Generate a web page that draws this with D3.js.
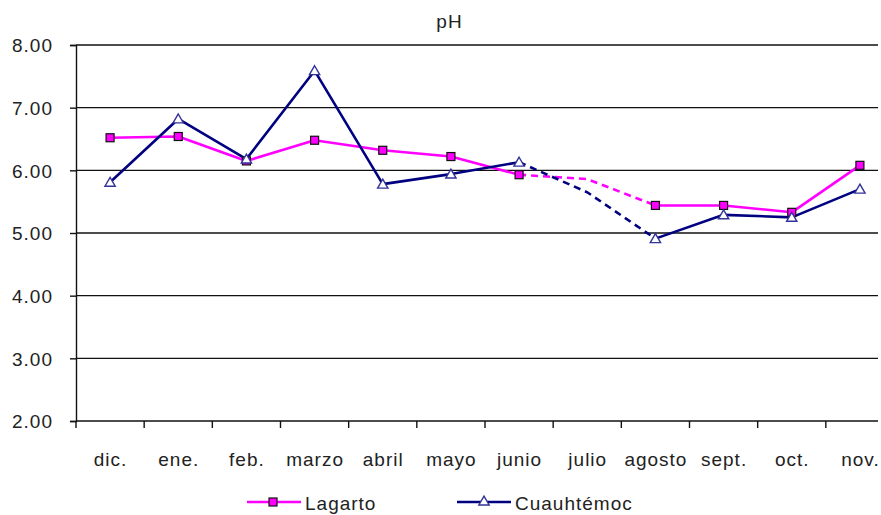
<!DOCTYPE html>
<html>
<head>
<meta charset="utf-8">
<script src="https://cdn.jsdelivr.net/npm/d3@7"></script>
<style>
  html, body { margin: 0; padding: 0; background: #fff; }
  text { font-family: "Liberation Sans", Arial, sans-serif; fill: #222; }
</style>
</head>
<body>
<svg id="chart" width="881" height="515"></svg>
<script>
const categories = ["dic.", "ene.", "feb.", "marzo", "abril", "mayo", "junio", "julio", "agosto", "sept.", "oct.", "nov."];
const lagarto = [6.52, 6.54, 6.15, 6.48, 6.32, 6.22, 5.93, 5.86, 5.44, 5.44, 5.33, 6.08];
const cuauhtemoc = [5.81, 6.82, 6.18, 7.59, 5.78, 5.94, 6.13, 5.65, 4.91, 5.29, 5.25, 5.70];
const dashedIndex = 7; // julio: no marker, dashed connection
const yTicks = [2, 3, 4, 5, 6, 7, 8];
const chartTitle = "pH";
const seriesNames = ["Lagarto", "Cuauhtémoc"];

(function () {
const svg = d3.select("#chart");
const pLeft = 76, pRight = 894, pTop = 45, pBottom = 421, visibleRight = 878;

const x = d3.scaleBand().domain(categories).range([pLeft, pRight]);
const cx = c => x(c) + x.bandwidth() / 2;
const y = d3.scaleLinear().domain([2, 8]).range([pBottom, pTop]);

const LS = "1px", FS = "19px";

// title
svg.append("text").attr("x", 449.5).attr("y", 28).attr("text-anchor", "middle")
  .style("font-size", FS).style("letter-spacing", LS).text(chartTitle);

// gridlines
svg.append("g").selectAll("line").data(yTicks.filter(d => d > 2)).join("line")
  .attr("x1", pLeft).attr("x2", visibleRight)
  .attr("y1", d => y(d)).attr("y2", d => y(d))
  .attr("stroke", "#111").attr("stroke-width", 1.4);

// y axis
const yAxis = svg.append("g").attr("transform", `translate(${pLeft},0)`)
  .call(d3.axisLeft(y).tickValues(yTicks).tickFormat(d3.format(".2f")).tickSize(6).tickPadding(18));
yAxis.select(".domain").attr("stroke", "#111").attr("stroke-width", 1.4);
yAxis.selectAll(".tick line").attr("stroke", "#111").attr("stroke-width", 1.4);
yAxis.selectAll("text").style("font-size", FS).style("letter-spacing", LS)
  .style("font-family", "'Liberation Sans', Arial, sans-serif").attr("fill", "#222")
  .attr("dy", "0.36em").attr("dx", "1");

// x axis line
svg.append("line").attr("x1", pLeft).attr("x2", visibleRight).attr("y1", pBottom).attr("y2", pBottom)
  .attr("stroke", "#111").attr("stroke-width", 1.4);
// boundary ticks
svg.append("g").selectAll("line").data(categories).join("line")
  .attr("x1", d => x(d)).attr("x2", d => x(d))
  .attr("y1", pBottom).attr("y2", pBottom + 7)
  .attr("stroke", "#111").attr("stroke-width", 1.4);
// category labels
svg.append("g").selectAll("text").data(categories).join("text")
  .attr("x", d => cx(d) + 0.5).attr("y", 466).attr("text-anchor", "middle")
  .style("font-size", FS).style("letter-spacing", LS).text(d => d);

// lines
function drawSeries(vals, color) {
  const pts = vals.map((v, i) => [cx(categories[i]), y(v)]);
  const line = d3.line();
  const g = svg.append("g");
  g.append("path").attr("d", line(pts.slice(0, dashedIndex))).attr("fill", "none")
    .attr("stroke", color).attr("stroke-width", 2.6).attr("stroke-linejoin", "round");
  g.append("path").attr("d", line(pts.slice(dashedIndex - 1, dashedIndex + 2))).attr("fill", "none")
    .attr("stroke", color).attr("stroke-width", 2.6).attr("stroke-dasharray", "7,5");
  g.append("path").attr("d", line(pts.slice(dashedIndex + 1))).attr("fill", "none")
    .attr("stroke", color).attr("stroke-width", 2.6).attr("stroke-linejoin", "round");
  return pts.filter((p, i) => i !== dashedIndex);
}

const magenta = "#FF00FF", navy = "#000080";
const lagPts = drawSeries(lagarto, magenta);
const cuaPts = drawSeries(cuauhtemoc, navy);

const tri = d3.symbol().type(d3.symbolTriangle).size(46);

svg.append("g").selectAll("rect").data(lagPts).join("rect")
  .attr("x", d => d[0] - 4).attr("y", d => d[1] - 4).attr("width", 8).attr("height", 8)
  .attr("fill", magenta).attr("stroke", "#111").attr("stroke-width", 1.2);

svg.append("g").selectAll("path").data(cuaPts).join("path")
  .attr("d", tri).attr("transform", d => `translate(${d[0]},${d[1] + 1})`)
  .attr("fill", "#fff").attr("stroke", "#333399").attr("stroke-width", 1.4);

// legend
const lg = svg.append("g");
lg.append("line").attr("x1", 247).attr("x2", 301).attr("y1", 502).attr("y2", 502)
  .attr("stroke", magenta).attr("stroke-width", 2.6);
lg.append("rect").attr("x", 269).attr("y", 498).attr("width", 8).attr("height", 8)
  .attr("fill", magenta).attr("stroke", "#111").attr("stroke-width", 1.2);
lg.append("text").attr("x", 305).attr("y", 510).style("font-size", FS).style("letter-spacing", LS).text(seriesNames[0]);

lg.append("line").attr("x1", 457).attr("x2", 511).attr("y1", 502).attr("y2", 502)
  .attr("stroke", navy).attr("stroke-width", 2.6);
lg.append("path").attr("d", tri).attr("transform", "translate(484,502)")
  .attr("fill", "#fff").attr("stroke", "#333399").attr("stroke-width", 1.4);
lg.append("text").attr("x", 515).attr("y", 510).style("font-size", FS).style("letter-spacing", LS).text(seriesNames[1]);
})();
</script>
</body>
</html>
